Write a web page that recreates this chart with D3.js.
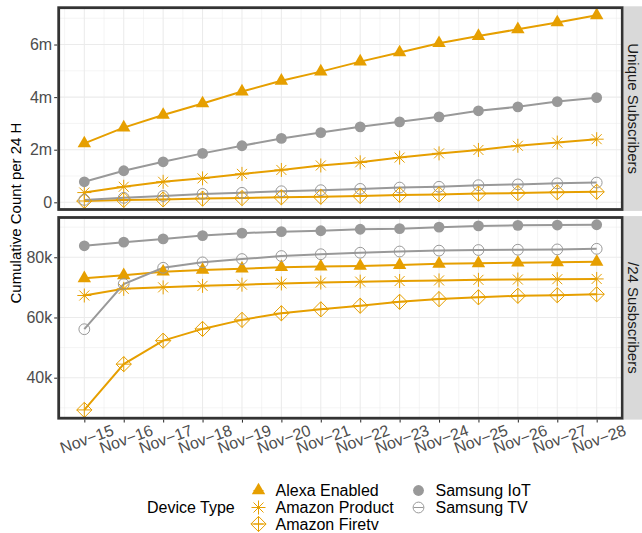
<!DOCTYPE html>
<html>
<head>
<meta charset="utf-8">
<script src="https://cdn.jsdelivr.net/npm/d3@7"></script>
<style>
  html, body { margin: 0; padding: 0; background: #ffffff; }
  svg { display: block; font-family: "Liberation Sans", Arial, sans-serif; }
</style>
</head>
<body>
<svg id="chart" width="642" height="533"></svg>
<script>
// ---------------- data ----------------
const dates = ["Nov−15","Nov−16","Nov−17","Nov−18","Nov−19","Nov−20","Nov−21",
               "Nov−22","Nov−23","Nov−24","Nov−25","Nov−26","Nov−27","Nov−28"];
const deviceTypes = ["Alexa Enabled","Amazon Product","Amazon Firetv","Samsung IoT","Samsung TV"];
const facetLabels = ["Unique Subscribers","/24 Susbscribers"];

// Unique Subscribers (millions)
const alexaUnique   = [2.24, 2.84, 3.32, 3.76, 4.21, 4.62, 4.97, 5.35, 5.70, 6.05, 6.32, 6.58, 6.84, 7.11];
const productUnique = [0.37, 0.59, 0.78, 0.91, 1.08, 1.23, 1.40, 1.52, 1.70, 1.86, 1.99, 2.15, 2.27, 2.40];
const firetvUnique  = [0.05, 0.09, 0.11, 0.14, 0.16, 0.19, 0.21, 0.24, 0.28, 0.30, 0.33, 0.35, 0.38, 0.40];
const iotUnique     = [0.78, 1.20, 1.54, 1.86, 2.15, 2.43, 2.65, 2.87, 3.06, 3.25, 3.48, 3.63, 3.83, 3.98];
const tvUnique      = [0.09, 0.17, 0.24, 0.32, 0.36, 0.42, 0.46, 0.51, 0.56, 0.59, 0.65, 0.68, 0.72, 0.75];

// /24 Subscribers (thousands)
const alexa24   = [73.0, 74.0, 75.2, 75.8, 76.2, 76.7, 76.9, 77.1, 77.4, 77.8, 78.0, 78.2, 78.3, 78.5];
const product24 = [67.3, 69.5, 70.0, 70.5, 70.9, 71.3, 71.6, 71.9, 72.1, 72.3, 72.5, 72.6, 72.7, 72.8];
const firetv24  = [29.3, 44.5, 52.3, 56.2, 59.2, 61.4, 62.7, 63.9, 65.2, 66.1, 66.7, 67.2, 67.4, 67.7];
const iot24     = [83.8, 85.0, 86.1, 87.2, 88.0, 88.5, 88.8, 89.3, 89.5, 90.0, 90.4, 90.6, 90.7, 90.8];
const tv24      = [56.1, 71.1, 76.5, 78.3, 79.4, 80.4, 81.0, 81.5, 81.9, 82.2, 82.4, 82.5, 82.6, 82.8];

const uniqueTicks = [0, 2, 4, 6];
const uniqueTickLabels = ["0", "2m", "4m", "6m"];
const sub24Ticks = [40, 60, 80];
const sub24TickLabels = ["40k", "60k", "80k"];

// ---------------- styles ----------------
const ORANGE = "#E69F00", GREY = "#999999";
const seriesStyle = {
  "Alexa Enabled":  { color: ORANGE, shape: "triangle" },
  "Amazon Product": { color: ORANGE, shape: "asterisk" },
  "Amazon Firetv":  { color: ORANGE, shape: "diamondplus" },
  "Samsung IoT":    { color: GREY,   shape: "circle" },
  "Samsung TV":     { color: GREY,   shape: "opencircle" }
};

const panels = [
  { label: facetLabels[0], top: 7.7, bottom: 209.5, domain: [-0.274, 7.40],
    ticks: uniqueTicks, tickLabels: uniqueTickLabels, minor: [1, 3, 5, 7],
    series: { "Alexa Enabled": alexaUnique, "Amazon Product": productUnique, "Amazon Firetv": firetvUnique,
              "Samsung IoT": iotUnique, "Samsung TV": tvUnique } },
  { label: facetLabels[1], top: 217.5, bottom: 418.2, domain: [26.55, 93.2],
    ticks: sub24Ticks, tickLabels: sub24TickLabels, minor: [30, 50, 70, 90],
    series: { "Alexa Enabled": alexa24, "Amazon Product": product24, "Amazon Firetv": firetv24,
              "Samsung IoT": iot24, "Samsung TV": tv24 } }
];

const svg = d3.select("#chart");
const left = 58.7, right = 622.3;
const x = d3.scaleLinear().domain([-0.65, dates.length - 1 + 0.65]).range([left, right]);
const idx = d3.range(dates.length);
const minorX = d3.range(-0.5, dates.length, 1);

function drawSymbol(g, shape, color) {
  if (shape === "triangle") {
    g.append("path").attr("d", d3.symbol(d3.symbolTriangle, 78)()).attr("fill", color);
  } else if (shape === "circle") {
    g.append("circle").attr("r", 5.4).attr("fill", color);
  } else if (shape === "opencircle") {
    g.append("circle").attr("r", 5.4).attr("fill", "none").attr("stroke", color).attr("stroke-width", 1);
  } else if (shape === "asterisk") {
    const a = 7, b = 5;
    g.append("path").attr("d", `M${-a},0L${a},0M0,${-a}L0,${a}M${-b},${-b}L${b},${b}M${-b},${b}L${b},${-b}`)
      .attr("stroke", color).attr("stroke-width", 1).attr("fill", "none");
  } else if (shape === "diamondplus") {
    const r = 7.6;
    g.append("path").attr("d", `M0,${-r}L${r},0L0,${r}L${-r},0ZM${-r},0L${r},0M0,${-r}L0,${r}`)
      .attr("stroke", color).attr("stroke-width", 1).attr("fill", "none");
  }
}

panels.forEach((p, pi) => {
  const y = d3.scaleLinear().domain(p.domain).range([p.bottom, p.top]);
  const g = svg.append("g");
  const clipId = "clip" + pi;
  svg.append("clipPath").attr("id", clipId).append("rect")
    .attr("x", left).attr("y", p.top).attr("width", right - left).attr("height", p.bottom - p.top);

  // background
  g.append("rect").attr("x", left).attr("y", p.top).attr("width", right - left)
    .attr("height", p.bottom - p.top).attr("fill", "#ffffff");

  // minor grid
  g.selectAll(".mx").data(minorX).enter().append("line")
    .attr("x1", d => x(d)).attr("x2", d => x(d)).attr("y1", p.top).attr("y2", p.bottom)
    .attr("stroke", "#EBEBEB").attr("stroke-width", 0.55);
  g.selectAll(".my").data(p.minor).enter().append("line")
    .attr("x1", left).attr("x2", right).attr("y1", d => y(d)).attr("y2", d => y(d))
    .attr("stroke", "#EBEBEB").attr("stroke-width", 0.55);
  // major grid
  g.selectAll(".gx").data(idx).enter().append("line")
    .attr("x1", d => x(d)).attr("x2", d => x(d)).attr("y1", p.top).attr("y2", p.bottom)
    .attr("stroke", "#EBEBEB").attr("stroke-width", 1.07);
  g.selectAll(".gy").data(p.ticks).enter().append("line")
    .attr("x1", left).attr("x2", right).attr("y1", d => y(d)).attr("y2", d => y(d))
    .attr("stroke", "#EBEBEB").attr("stroke-width", 1.07);

  const plot = g.append("g").attr("clip-path", `url(#${clipId})`);
  const line = d3.line().x((d, i) => x(i)).y(d => y(d));
  deviceTypes.forEach(name => {
    plot.append("path").datum(p.series[name]).attr("d", line)
      .attr("fill", "none").attr("stroke", seriesStyle[name].color).attr("stroke-width", 2);
  });
  deviceTypes.forEach(name => {
    p.series[name].forEach((v, i) => {
      const pg = plot.append("g").attr("transform", `translate(${x(i)},${y(v)})`);
      drawSymbol(pg, seriesStyle[name].shape, seriesStyle[name].color);
    });
  });

  // y axis
  const yAxis = d3.axisLeft(y).tickValues(p.ticks).tickSize(3).tickPadding(2)
    .tickFormat((d, i) => p.tickLabels[i]);
  const ya = svg.append("g").attr("transform", `translate(${left - 1.5},0)`).call(yAxis);
  ya.select(".domain").remove();
  ya.selectAll("line").attr("stroke", "#333333").attr("stroke-width", 1.07);
  ya.selectAll("text").attr("fill", "#4D4D4D").style("font-size", "16px")
    .style("font-family", "'Liberation Sans', Arial, sans-serif");

  // panel border
  svg.append("rect").attr("x", left).attr("y", p.top).attr("width", right - left)
    .attr("height", p.bottom - p.top).attr("fill", "none").attr("stroke", "#333333").attr("stroke-width", 2.8);

  // strip
  svg.append("rect").attr("x", right + 1.4).attr("y", p.top - 1.4).attr("width", 642 - right)
    .attr("height", p.bottom - p.top + 2.8).attr("fill", "#D9D9D9");
  svg.append("text").attr("transform", `translate(${(right + 1.4 + 642) / 2 + 0.5},${(p.top + p.bottom) / 2}) rotate(90)`)
    .attr("text-anchor", "middle").attr("dy", "0.35em")
    .style("font-size", "15px").attr("fill", "#1A1A1A").text(p.label);

  if (pi === 1) {
    const xAxis = d3.axisBottom(x).tickValues(idx).tickSize(3).tickFormat(i => dates[i]);
    const xa = svg.append("g").attr("transform", `translate(0,${p.bottom + 1.4})`).call(xAxis);
    xa.select(".domain").remove();
    xa.selectAll("line").attr("stroke", "#333333").attr("stroke-width", 1.07);
    xa.selectAll("text")
      .attr("y", 0).attr("dy", 0)
      .attr("text-anchor", "middle")
      .attr("dominant-baseline", "central")
      .attr("transform", `translate(2,${439 - p.bottom - 1.4}) rotate(-20)`)
      .attr("fill", "#4D4D4D").style("font-size", "16px")
      .style("font-family", "'Liberation Sans', Arial, sans-serif");
  }
});

// y axis title
svg.append("text").attr("transform", "translate(15,213) rotate(-90)")
  .attr("text-anchor", "middle").attr("dominant-baseline", "central")
  .style("font-size", "15px").attr("fill", "#000000").text("Cumulative Count per 24 H");

// legend
const legend = svg.append("g");
legend.append("text").attr("x", 147).attr("y", 507.5).attr("dominant-baseline", "central")
  .style("font-size", "16px").attr("fill", "#000000").text("Device Type");
const legendPos = {
  "Alexa Enabled":  [258.5, 490.5],
  "Amazon Product": [258.5, 507.5],
  "Amazon Firetv":  [258.5, 524],
  "Samsung IoT":    [418.5, 490.5],
  "Samsung TV":     [418.5, 507.5]
};
deviceTypes.forEach(name => {
  const [lx, ly] = legendPos[name];
  const kg = legend.append("g").attr("transform", `translate(${lx},${ly})`);
  kg.append("line").attr("x1", -5).attr("x2", 5).attr("stroke", seriesStyle[name].color).attr("stroke-width", 1);
  drawSymbol(kg, seriesStyle[name].shape, seriesStyle[name].color);
  legend.append("text").attr("x", lx + 17).attr("y", ly).attr("dominant-baseline", "central")
    .style("font-size", "16px").attr("fill", "#000000").text(name);
});
</script>
</body>
</html>
